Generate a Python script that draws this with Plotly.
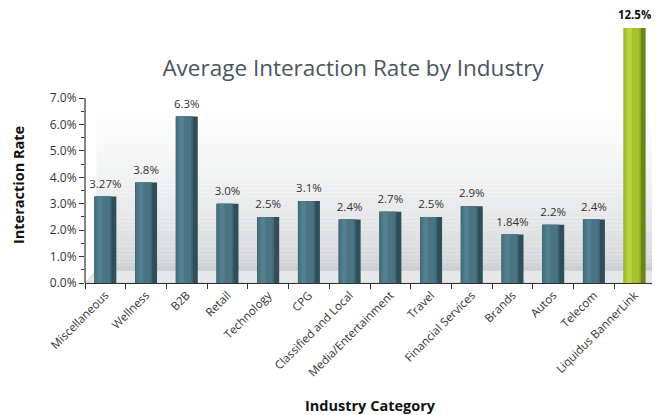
import plotly.graph_objects as go

# ---- data ----
categories = ["Miscellaneous", "Wellness", "B2B", "Retail", "Technology", "CPG",
              "Classified and Local", "Media/Entertainment", "Travel",
              "Financial Services", "Brands", "Autos", "Telecom", "Liquidus BannerLink"]
rates = [3.27, 3.8, 6.3, 3.0, 2.5, 3.1, 2.4, 2.7, 2.5, 2.9, 1.84, 2.2, 2.4, 12.5]
rate_labels = ["3.27%", "3.8%", "6.3%", "3.0%", "2.5%", "3.1%", "2.4%", "2.7%",
               "2.5%", "2.9%", "1.84%", "2.2%", "2.4%", "12.5%"]
y_tick_values = [0, 1, 2, 3, 4, 5, 6, 7]
y_tick_labels = ["0.0%", "1.0%", "2.0%", "3.0%", "4.0%", "5.0%", "6.0%", "7.0%"]
highlight = "Liquidus BannerLink"

title = "Average Interaction Rate by Industry"
x_title = "Industry Category"
y_title = "Interaction Rate"

# ---- styling ----
Y_MAX = 9.65          # axis is broken: tallest bar is cut at top of plot
FONT = "Open Sans"
TXT = "#333333"
W, H = 652, 407       # page body adds an 8px offset in the browser
PL, PR, PT, PB = 77, 647, 20, 275   # plot area in figure pixels

# cylinder shading layers: (width, offset, teal colour, olive colour)
layers = [
    (0.54, -0.27, "#2f4e59", "#6a8519"),   # full body / right shadow
    (0.42, -0.27, "#3f6573", "#96b424"),   # left and middle
    (0.36, -0.25, "#4a7482", "#a5c12b"),
    (0.12, -0.19, "#52808e", "#bad242"),   # highlight
]

fig = go.Figure()

for w, off, tcol, ocol in layers:
    colors = [ocol if c == highlight else tcol for c in categories]
    fig.add_trace(go.Bar(
        x=categories, y=rates, width=w, offset=off,
        marker=dict(color=colors, line=dict(width=0)),
        hoverinfo="skip", showlegend=False,
    ))

label_y = [min(v, Y_MAX) for v in rates]
fig.add_trace(go.Scatter(
    x=categories, y=label_y, mode="markers+text", text=rate_labels,
    textposition="top center",
    marker=dict(size=8, opacity=0),
    textfont=dict(family=FONT, size=11.5,
                  color=["#111111" if c == highlight else TXT for c in categories],
                  weight=["bold" if c == highlight else "normal" for c in categories]),
    cliponaxis=False, showlegend=False, hoverinfo="skip",
))

# background gradient (wall) and floor
shapes = []
n = 40
lo, hi = 0.45, 6.7
c0 = (204, 206, 209)
c1 = (255, 255, 255)
for i in range(n):
    t = i / (n - 1)
    y0 = lo + (hi - lo) * i / n
    y1 = lo + (hi - lo) * (i + 1) / n
    tt = t ** 0.6
    col = tuple(int(round(c0[k] + (c1[k] - c0[k]) * tt)) for k in range(3))
    shapes.append(dict(type="rect", xref="paper", yref="y", x0=0.02, x1=1,
                       y0=y0, y1=y1, fillcolor="rgb(%d,%d,%d)" % col,
                       line=dict(width=0), layer="below"))
shapes.append(dict(type="path", xref="paper", yref="y",
                   path="M 0,0 L 0.02,0.48 L 1,0.48 L 1,0 Z",
                   fillcolor="#e6e7e9", line=dict(color="#d0d1d4", width=1),
                   layer="below"))
# y-axis line limited to the labelled range
shapes.append(dict(type="line", xref="paper", yref="y", x0=0, x1=0,
                   y0=0, y1=y_tick_values[-1], line=dict(color="#333333", width=1.2)))

pw = PR - PL
ph = PB - PT
fig.update_layout(
    width=W, height=H,
    margin=dict(l=PL, r=W - PR, t=PT, b=H - PB),
    paper_bgcolor="white", plot_bgcolor="white",
    barmode="overlay",
    font=dict(family=FONT, color=TXT),
    title=dict(text=title, x=345 / W, xref="container", xanchor="center",
               y=1 - 60 / H, yref="container", yanchor="middle",
               font=dict(family=FONT, size=22.5, color="#4a5560")),
    shapes=shapes,
    xaxis=dict(type="category", range=[-0.5, 13.5], tickson="boundaries",
               ticks="outside", ticklen=5, tickcolor="#333333",
               showline=True, linecolor="#333333", linewidth=1.2,
               tickangle=-45, tickfont=dict(family=FONT, size=11.5, color=TXT),
               showgrid=False, zeroline=False),
    yaxis=dict(range=[0, Y_MAX], tickvals=y_tick_values, ticktext=y_tick_labels,
               ticks="outside", ticklen=5, tickcolor="#333333",
               minor=dict(tickvals=[v + 0.5 for v in y_tick_values[:-1]],
                          ticks="outside", ticklen=3, tickcolor="#333333"),
               showline=False, showgrid=False, zeroline=False,
               tickfont=dict(family=FONT, size=12, color=TXT)),
    annotations=[
        dict(text="<b>%s</b>" % y_title, xref="paper", yref="paper",
             x=(10 - PL) / pw, y=(PB - 177) / ph, textangle=-90,
             showarrow=False, xanchor="center", yanchor="middle",
             font=dict(family=FONT, size=14.5, color="#111111")),
        dict(text="<b>%s</b>" % x_title, xref="paper", yref="paper",
             x=(362 - PL) / pw, y=-(397 - PB) / ph,
             showarrow=False, xanchor="center", yanchor="middle",
             font=dict(family=FONT, size=14.5, color="#111111")),
    ],
)

fig.write_html("out.html")
